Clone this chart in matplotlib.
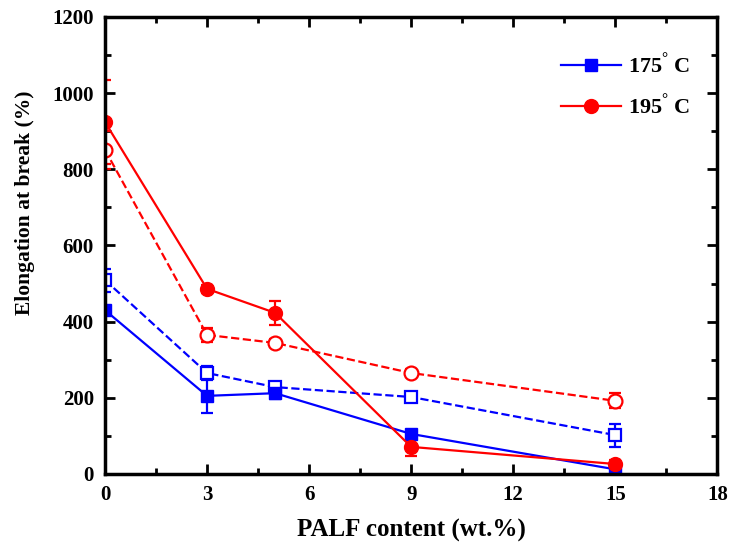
import matplotlib
matplotlib.use('Agg')
import matplotlib.pyplot as plt
from matplotlib.lines import Line2D
from matplotlib.ticker import MultipleLocator

plt.rcParams['font.family'] = 'Liberation Serif'
plt.rcParams['font.weight'] = 'bold'
plt.rcParams['mathtext.fontset'] = 'custom'
plt.rcParams['mathtext.rm'] = 'Liberation Serif:bold'

# PALF content (wt.%)
palf = [0, 3, 5, 9, 15]

# solid lines, filled markers
eb_175 = [430, 205, 212, 105, 12]
err_175 = [12, 45, 15, 10, 5]
eb_195 = [924, 486, 423, 71, 26]
err_195 = [110, 10, 32, 25, 10]

# dashed lines, open markers
eb_175_open = [509, 265, 228, 202, 102]
err_175_open = [30, 18, 12, 10, 30]
eb_195_open = [851, 365, 344, 265, 192]
err_195_open = [50, 18, 10, 10, 20]

labels = [r'175$^{\mathrm{°}}$ C', r'195$^{\mathrm{°}}$ C']

fig = plt.figure(figsize=(7.29, 5.46), dpi=100)
ax = fig.add_axes([0.144, 0.132, 0.84, 0.837])

kw = dict(lw=1.6, capsize=4, elinewidth=1.6, capthick=1.6)
ax.errorbar(palf, eb_175_open, yerr=err_175_open, color='blue', ls='--',
            marker='s', ms=9, mfc='white', mec='blue', mew=1.6, **kw)
ax.errorbar(palf, eb_195_open, yerr=err_195_open, color='red', ls='--',
            marker='o', ms=10, mfc='white', mec='red', mew=1.6, **kw)
ax.errorbar(palf, eb_175, yerr=err_175, color='blue', ls='-', marker='s', ms=9, **kw)
ax.errorbar(palf, eb_195, yerr=err_195, color='red', ls='-', marker='o', ms=10, **kw)

ax.set_xlim(0, 18)
ax.set_ylim(0, 1200)
ax.xaxis.set_major_locator(MultipleLocator(3))
ax.xaxis.set_minor_locator(MultipleLocator(1.5))
ax.yaxis.set_major_locator(MultipleLocator(200))
ax.yaxis.set_minor_locator(MultipleLocator(100))
ax.tick_params(which='both', direction='in', top=True, right=True, width=2)
ax.tick_params(which='major', length=7, labelsize=15, pad=8)
ax.tick_params(which='minor', length=4)
for s in ax.spines.values():
    s.set_linewidth(2.5)

ax.set_xlabel('PALF content (wt.%)', fontsize=18, fontweight='bold', labelpad=10)
ax.set_ylabel('Elongation at break (%)', fontsize=15.5, fontweight='bold')
ax.yaxis.set_label_coords(-0.114, 0.593)

handles = [Line2D([], [], color='blue', lw=1.6, marker='s', ms=9),
           Line2D([], [], color='red', lw=1.6, marker='o', ms=10)]
ax.legend(handles, labels, loc='upper right', bbox_to_anchor=(0.97, 0.94), frameon=False,
          fontsize=16, handlelength=2.7, handletextpad=0.3, labelspacing=0.75, borderaxespad=0)

fig.savefig('out.png', dpi=100)
